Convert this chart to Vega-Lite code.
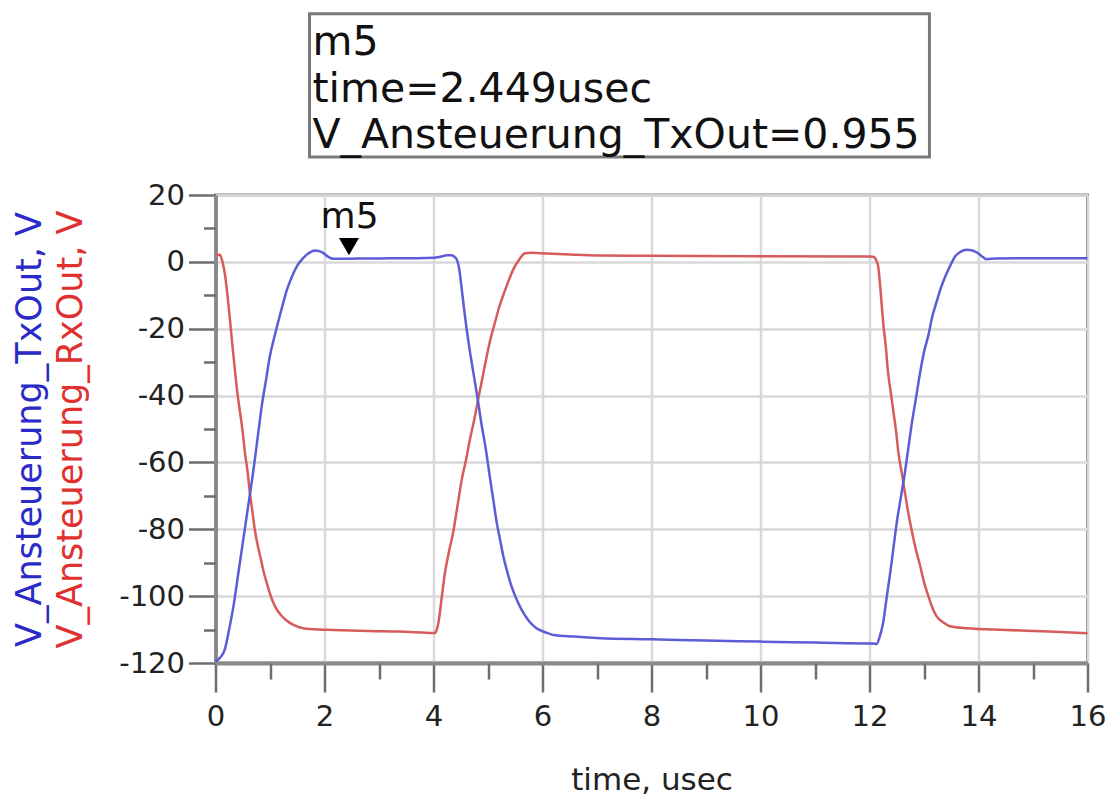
{
  "$schema": "https://vega.github.io/schema/vega-lite/v6.json",
  "width": 872,
  "height": 468,
  "autosize": {"type": "none"},
  "padding": {"left": 215.5, "top": 195, "right": 21.5, "bottom": 137},
  "background": "white",
  "config": {
    "font": "DejaVu Sans",
    "view": {"stroke": "#8a8a8a", "strokeWidth": 3},
    "axis": {
      "labelFont": "DejaVu Sans",
      "titleFont": "DejaVu Sans",
      "labelColor": "#222222",
      "tickColor": "#6e6e6e",
      "tickWidth": 2.5,
      "domainColor": "#8a8a8a",
      "domainWidth": 4,
      "gridColor": "#d9d9d9",
      "gridWidth": 2.5,
      "labelFlush": false,
      "labelOverlap": false,
      "titleFontWeight": "normal"
    }
  },
  "datasets": {
    "tx": [
      {"t": 0, "v": -119.5}, {"t": 0.08, "v": -118.5}, {"t": 0.17, "v": -116}, {"t": 0.25, "v": -110},
      {"t": 0.33, "v": -103}, {"t": 0.42, "v": -93}, {"t": 0.51, "v": -83}, {"t": 0.6, "v": -73},
      {"t": 0.69, "v": -63}, {"t": 0.77, "v": -53}, {"t": 0.85, "v": -43}, {"t": 0.93, "v": -35},
      {"t": 1.0, "v": -28}, {"t": 1.08, "v": -22.5}, {"t": 1.15, "v": -18}, {"t": 1.23, "v": -13},
      {"t": 1.31, "v": -8.4}, {"t": 1.4, "v": -4.5}, {"t": 1.49, "v": -1.4}, {"t": 1.58, "v": 0.6},
      {"t": 1.67, "v": 2.1}, {"t": 1.75, "v": 3.0}, {"t": 1.83, "v": 3.4}, {"t": 1.9, "v": 3.2},
      {"t": 1.98, "v": 2.6}, {"t": 2.07, "v": 1.5}, {"t": 2.16, "v": 0.9}, {"t": 2.3, "v": 0.95},
      {"t": 2.449, "v": 0.955}, {"t": 2.8, "v": 1.0}, {"t": 3.2, "v": 1.05}, {"t": 3.6, "v": 1.1},
      {"t": 4.0, "v": 1.2}, {"t": 4.15, "v": 1.6}, {"t": 4.25, "v": 2.0}, {"t": 4.33, "v": 2.0},
      {"t": 4.38, "v": 1.6}, {"t": 4.43, "v": 0.6}, {"t": 4.48, "v": -3}, {"t": 4.52, "v": -8.4},
      {"t": 4.56, "v": -14}, {"t": 4.61, "v": -20.3}, {"t": 4.67, "v": -27}, {"t": 4.73, "v": -33},
      {"t": 4.82, "v": -42}, {"t": 4.88, "v": -48.5}, {"t": 4.95, "v": -55}, {"t": 5.04, "v": -65},
      {"t": 5.1, "v": -71.5}, {"t": 5.16, "v": -78}, {"t": 5.22, "v": -83}, {"t": 5.28, "v": -88},
      {"t": 5.35, "v": -92.5}, {"t": 5.43, "v": -97}, {"t": 5.54, "v": -101.5}, {"t": 5.65, "v": -105},
      {"t": 5.77, "v": -107.8}, {"t": 5.89, "v": -109.6}, {"t": 6.05, "v": -110.8}, {"t": 6.2, "v": -111.6},
      {"t": 6.6, "v": -112.1}, {"t": 7.06, "v": -112.6}, {"t": 8.0, "v": -112.9}, {"t": 9.0, "v": -113.3},
      {"t": 10.0, "v": -113.6}, {"t": 11.0, "v": -113.9}, {"t": 12.07, "v": -114.2}, {"t": 12.13, "v": -114.3},
      {"t": 12.19, "v": -112}, {"t": 12.25, "v": -108}, {"t": 12.31, "v": -101}, {"t": 12.38, "v": -93},
      {"t": 12.44, "v": -85.5}, {"t": 12.5, "v": -78}, {"t": 12.58, "v": -70}, {"t": 12.65, "v": -63},
      {"t": 12.71, "v": -56}, {"t": 12.77, "v": -49}, {"t": 12.85, "v": -41}, {"t": 12.93, "v": -33},
      {"t": 13.0, "v": -27}, {"t": 13.08, "v": -22}, {"t": 13.15, "v": -16.5}, {"t": 13.23, "v": -12},
      {"t": 13.31, "v": -7.8}, {"t": 13.39, "v": -4.4}, {"t": 13.48, "v": -1.2}, {"t": 13.57, "v": 1.6},
      {"t": 13.67, "v": 3.0}, {"t": 13.78, "v": 3.6}, {"t": 13.87, "v": 3.5}, {"t": 13.97, "v": 2.8},
      {"t": 14.06, "v": 1.7}, {"t": 14.15, "v": 0.8}, {"t": 14.3, "v": 1.0}, {"t": 15.0, "v": 1.1},
      {"t": 16.0, "v": 1.1}
    ],
    "rx": [
      {"t": 0.0, "v": 2.0}, {"t": 0.08, "v": 2.1}, {"t": 0.12, "v": 0.5}, {"t": 0.17, "v": -3.4},
      {"t": 0.22, "v": -10}, {"t": 0.27, "v": -18}, {"t": 0.31, "v": -25}, {"t": 0.36, "v": -33},
      {"t": 0.4, "v": -39}, {"t": 0.45, "v": -45}, {"t": 0.5, "v": -51}, {"t": 0.54, "v": -57},
      {"t": 0.59, "v": -63}, {"t": 0.63, "v": -69}, {"t": 0.68, "v": -75}, {"t": 0.72, "v": -80},
      {"t": 0.77, "v": -84.5}, {"t": 0.82, "v": -88}, {"t": 0.88, "v": -92.5}, {"t": 0.94, "v": -96},
      {"t": 1.01, "v": -99.8}, {"t": 1.09, "v": -103}, {"t": 1.18, "v": -105.3}, {"t": 1.28, "v": -107},
      {"t": 1.44, "v": -108.7}, {"t": 1.61, "v": -109.6}, {"t": 1.9, "v": -110.0}, {"t": 2.16, "v": -110.1},
      {"t": 2.8, "v": -110.4}, {"t": 3.38, "v": -110.6}, {"t": 3.8, "v": -110.9}, {"t": 4.03, "v": -111.0},
      {"t": 4.06, "v": -110}, {"t": 4.09, "v": -108}, {"t": 4.15, "v": -100.5}, {"t": 4.21, "v": -93},
      {"t": 4.28, "v": -87}, {"t": 4.36, "v": -81}, {"t": 4.44, "v": -73}, {"t": 4.52, "v": -65},
      {"t": 4.6, "v": -59}, {"t": 4.67, "v": -53}, {"t": 4.75, "v": -47}, {"t": 4.82, "v": -41},
      {"t": 4.9, "v": -34.5}, {"t": 4.98, "v": -28}, {"t": 5.05, "v": -22.8}, {"t": 5.13, "v": -18},
      {"t": 5.2, "v": -13.8}, {"t": 5.28, "v": -10}, {"t": 5.37, "v": -6}, {"t": 5.46, "v": -2.4},
      {"t": 5.57, "v": 0.6}, {"t": 5.68, "v": 2.6}, {"t": 5.8, "v": 2.7}, {"t": 5.95, "v": 2.6},
      {"t": 6.5, "v": 2.2}, {"t": 7.06, "v": 1.9}, {"t": 8.0, "v": 1.8}, {"t": 10.0, "v": 1.7},
      {"t": 12.0, "v": 1.6}, {"t": 12.07, "v": 1.5}, {"t": 12.12, "v": 0.6}, {"t": 12.16, "v": -1.4},
      {"t": 12.2, "v": -8}, {"t": 12.25, "v": -18}, {"t": 12.3, "v": -25.5}, {"t": 12.34, "v": -33},
      {"t": 12.39, "v": -39}, {"t": 12.44, "v": -45}, {"t": 12.49, "v": -51}, {"t": 12.53, "v": -57},
      {"t": 12.59, "v": -63}, {"t": 12.65, "v": -69}, {"t": 12.71, "v": -75}, {"t": 12.77, "v": -80},
      {"t": 12.85, "v": -86}, {"t": 12.93, "v": -91}, {"t": 13.0, "v": -95.8}, {"t": 13.08, "v": -100},
      {"t": 13.15, "v": -103.3}, {"t": 13.23, "v": -106}, {"t": 13.35, "v": -107.8}, {"t": 13.48, "v": -109},
      {"t": 13.78, "v": -109.6}, {"t": 14.5, "v": -110.1}, {"t": 15.3, "v": -110.6}, {"t": 16.0, "v": -111.1}
    ],
    "marker": [{"t": 2.449, "v": 0.955, "name": "m5"}],
    "markerlabel": [{"t": 2.46, "v": 10.2, "name": "m5"}],
    "box": [{"x1": 1.725, "x2": 13.1, "y1": 74.2, "y2": 31.4}],
    "boxtext": [
      {"t": 1.78, "v": 61.9, "label": "m5"},
      {"t": 1.78, "v": 47.9, "label": "time=2.449usec"},
      {"t": 1.78, "v": 34.1, "label": "V_Ansteuerung_TxOut=0.955"}
    ]
  },
  "resolve": {"axis": {"x": "independent", "y": "independent"}},
  "layer": [
    {
      "data": {"name": "rx"},
      "mark": {"type": "line", "color": "#d65c5c", "strokeWidth": 2.5, "interpolate": "monotone"},
      "encoding": {
        "x": {"field": "t", "type": "quantitative",
          "scale": {"domain": [0, 16], "nice": false, "zero": false},
          "axis": {"orient": "bottom", "title": "time, usec", "values": [0, 2, 4, 6, 8, 10, 12, 14, 16],
            "tickSize": 29, "labelPadding": 10, "labelFontSize": 29, "grid": true,
            "titleFontSize": 31, "titlePadding": 34, "titleColor": "#222222"}},
        "y": {"field": "v", "type": "quantitative",
          "scale": {"domain": [-120, 20], "nice": false, "zero": false},
          "axis": {"orient": "left", "title": "V_Ansteuerung_RxOut, V",
            "values": [20, 0, -20, -40, -60, -80, -100, -120],
            "labelExpr": "replace(datum.label, '\u2212', '-')",
            "tickSize": 27, "labelPadding": 4, "labelFontSize": 29, "grid": true,
            "titleFontSize": 35, "titlePadding": 30, "titleColor": "#e03030"}}
      }
    },
    {
      "data": {"name": "tx"},
      "mark": {"type": "line", "color": "#5c5cd6", "strokeWidth": 2.5, "interpolate": "monotone"},
      "encoding": {
        "x": {"field": "t", "type": "quantitative",
          "scale": {"domain": [0, 16], "nice": false, "zero": false}, "axis": null},
        "y": {"field": "v", "type": "quantitative",
          "scale": {"domain": [-120, 20], "nice": false, "zero": false},
          "axis": {"orient": "left", "title": "V_Ansteuerung_TxOut, V", "labels": false, "ticks": false,
            "domain": true, "domainOpacity": 0, "grid": false,
            "titleFontSize": 35, "titlePadding": 168, "titleColor": "#2a2ac8"}}
      }
    },
    {
      "data": {"name": "marker"},
      "mark": {"type": "point", "shape": "triangle-down", "filled": true, "color": "#000000", "size": 400, "opacity": 1, "yOffset": -12},
      "encoding": {
        "x": {"field": "t", "type": "quantitative",
          "scale": {"domain": [0, 16], "nice": false, "zero": false},
          "axis": {"orient": "bottom", "values": [1, 3, 5, 7, 9, 11, 13, 15], "tickSize": 16,
            "labels": false, "domain": false, "grid": false, "title": null}},
        "y": {"field": "v", "type": "quantitative",
          "scale": {"domain": [-120, 20], "nice": false, "zero": false},
          "axis": {"orient": "left", "values": [10, -10, -30, -50, -70, -90, -110], "tickSize": 12,
            "labels": false, "domain": false, "grid": false, "title": null}}
      }
    },
    {
      "data": {"name": "markerlabel"},
      "mark": {"type": "text", "fontSize": 36, "align": "center", "baseline": "alphabetic", "color": "#111111", "font": "DejaVu Sans"},
      "encoding": {
        "x": {"field": "t", "type": "quantitative", "scale": {"domain": [0, 16], "nice": false, "zero": false}, "axis": null},
        "y": {"field": "v", "type": "quantitative", "scale": {"domain": [-120, 20], "nice": false, "zero": false}, "axis": null},
        "text": {"field": "name"}
      }
    },
    {
      "data": {"name": "box"},
      "mark": {"type": "rect", "fill": "white", "stroke": "#7a7a7a", "strokeWidth": 3},
      "encoding": {
        "x": {"field": "x1", "type": "quantitative", "scale": {"domain": [0, 16], "nice": false, "zero": false}, "axis": null},
        "x2": {"field": "x2"},
        "y": {"field": "y1", "type": "quantitative", "scale": {"domain": [-120, 20], "nice": false, "zero": false}, "axis": null},
        "y2": {"field": "y2"}
      }
    },
    {
      "data": {"name": "boxtext"},
      "mark": {"type": "text", "fontSize": 41, "align": "left", "baseline": "alphabetic", "color": "#111111", "font": "DejaVu Sans"},
      "encoding": {
        "x": {"field": "t", "type": "quantitative", "scale": {"domain": [0, 16], "nice": false, "zero": false}, "axis": null},
        "y": {"field": "v", "type": "quantitative", "scale": {"domain": [-120, 20], "nice": false, "zero": false}, "axis": null},
        "text": {"field": "label"}
      }
    }
  ]
}
